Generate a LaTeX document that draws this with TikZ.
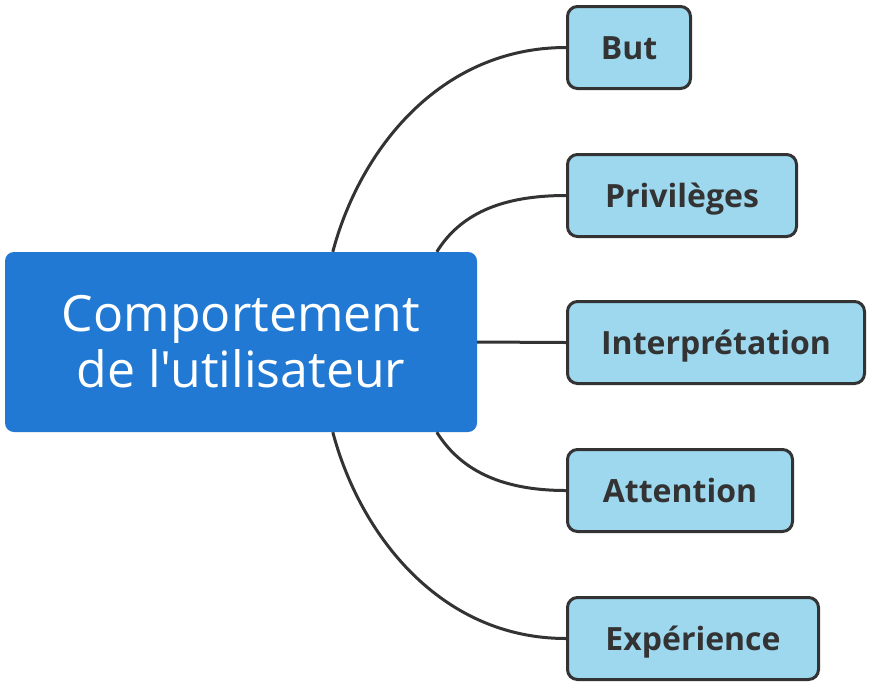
\documentclass[tikz,border=0pt]{standalone}
\usepackage{fontspec}
\usetikzlibrary{calc}
\setmainfont{Open Sans}[Ligatures=TeXOff]
\definecolor{ctrblue}{HTML}{2279D3}
\definecolor{childblue}{HTML}{9DD8EE}
\definecolor{ink}{HTML}{333333}
\begin{document}
\begin{tikzpicture}[x=1pt,y=-1pt,
  childbox/.style={draw=ink, line width=3pt, fill=childblue, rounded corners=10pt,
    minimum height=82pt, inner sep=0pt, text height=23pt, text depth=0pt, text=ink,
    font=\fontsize{32}{38}\selectfont\bfseries},
  ctrbox/.style={fill=ctrblue, rounded corners=9pt, minimum width=472pt, minimum height=180pt,
    inner sep=0pt, text=white, align=center, font=\fontsize{50}{56}\selectfont},
  link/.style={draw=ink, line width=3pt}]
\useasboundingbox (0,0) rectangle (872,689);
\node[ctrbox] (ctr) at (241,342) {Comportement\\de l'utilisateur};
\node[childbox, minimum width=123pt] (but) at (629,47.5) {But};
\node[childbox, minimum width=229pt] (priv) at (682,195.5) {Privilèges};
\node[childbox, minimum width=297pt] (interp) at (716,342.5) {Interprétation};
\node[childbox, minimum width=225pt] (att) at (680,490.5) {Attention};
\node[childbox, minimum width=251pt] (exp) at (693,638.5) {Expérience};
\coordinate (cA) at ($(ctr.north west)+(328,0)$);
\coordinate (cB) at ($(ctr.north west)+(432,0)$);
\coordinate (cC) at ($(ctr.south west)+(432,0)$);
\coordinate (cD) at ($(ctr.south west)+(328,0)$);
\draw[link] (cA) .. controls +(27,-102) and +(-126,0) .. (but.west);
\draw[link] (cB) .. controls +(23,-37) and +(-66,0) .. (priv.west);
\draw[link] (ctr.east) -- (interp.west);
\draw[link] (cC) .. controls +(23,37) and +(-66,0) .. (att.west);
\draw[link] (cD) .. controls +(27,102) and +(-126,0) .. (exp.west);
\end{tikzpicture}
\end{document}
